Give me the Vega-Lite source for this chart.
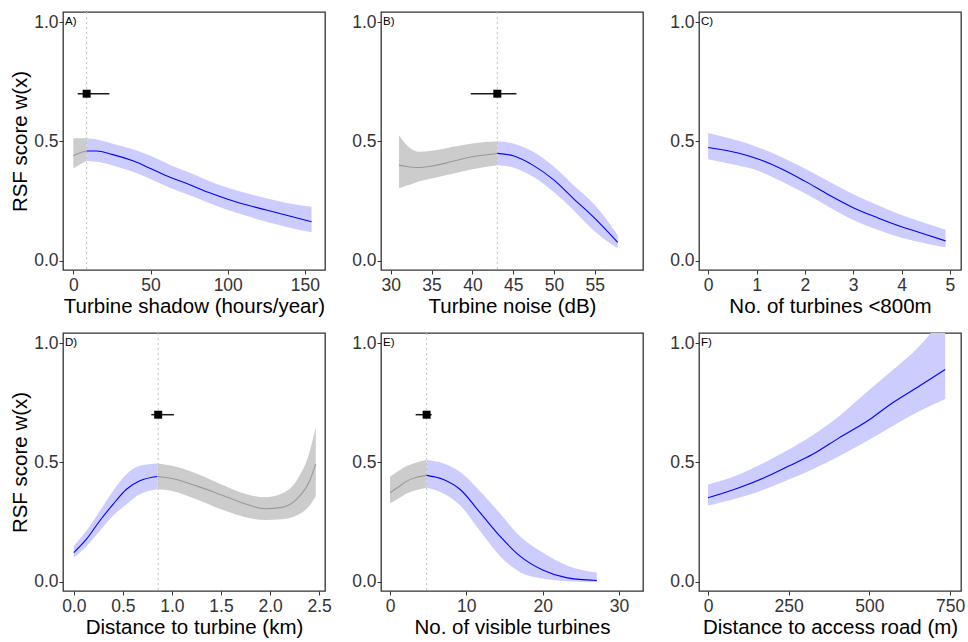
{
  "$schema": "https://vega.github.io/schema/vega-lite/v6.json",
  "background": "white",
  "padding": {"left": 10, "top": 10, "right": 5, "bottom": 5},
  "columns": 3,
  "bounds": "flush",
  "spacing": {"row": 63, "column": 56},
  "config": {
    "view": {"stroke": "#333333", "strokeWidth": 1.3},
    "axis": {"grid": false, "domain": false, "tickColor": "#333333", "tickSize": 4, "labelFont": "Liberation Sans", "labelFontSize": 17.5, "labelColor": "#333333", "labelPadding": 1, "labelFlush": false, "labelOverlap": false, "titleFont": "Liberation Sans", "titleFontSize": 20.5, "titleFontWeight": "normal", "titleColor": "#000000", "titlePadding": 3},
    "axisX": {"labelPadding": 2, "titlePadding": 3}
  },
  "concat": [
    {
      "width": 262, "height": 258,
      "data": {"values": [
        {"x": 0, "y": 0.440, "lo": 0.387, "hi": 0.513, "seg": "grey"},
        {"x": 4, "y": 0.452, "lo": 0.403, "hi": 0.513, "seg": "grey"},
        {"x": 8.6, "y": 0.460, "lo": 0.418, "hi": 0.513, "seg": "grey"},
        {"x": 8.6, "y": 0.460, "lo": 0.418, "hi": 0.513, "seg": "blue"},
        {"x": 15, "y": 0.460, "lo": 0.415, "hi": 0.508, "seg": "blue"},
        {"x": 25, "y": 0.446, "lo": 0.401, "hi": 0.492, "seg": "blue"},
        {"x": 39, "y": 0.418, "lo": 0.372, "hi": 0.466, "seg": "blue"},
        {"x": 50, "y": 0.387, "lo": 0.343, "hi": 0.440, "seg": "blue"},
        {"x": 62.6, "y": 0.350, "lo": 0.306, "hi": 0.402, "seg": "blue"},
        {"x": 75, "y": 0.320, "lo": 0.276, "hi": 0.370, "seg": "blue"},
        {"x": 87.4, "y": 0.287, "lo": 0.244, "hi": 0.336, "seg": "blue"},
        {"x": 100, "y": 0.258, "lo": 0.213, "hi": 0.306, "seg": "blue"},
        {"x": 112.5, "y": 0.234, "lo": 0.188, "hi": 0.283, "seg": "blue"},
        {"x": 125, "y": 0.213, "lo": 0.164, "hi": 0.262, "seg": "blue"},
        {"x": 137.5, "y": 0.192, "lo": 0.143, "hi": 0.244, "seg": "blue"},
        {"x": 154.3, "y": 0.164, "lo": 0.120, "hi": 0.227, "seg": "blue"}
      ]},
      "layer": [
        {"mark": {"type": "area", "interpolate": "monotone", "clip": true},
         "encoding": {
           "x": {"field": "x", "type": "quantitative", "scale": {"domain": [-6.7, 163], "nice": false, "zero": false}, "axis": {"values": [0, 50, 100, 150], "title": "Turbine shadow (hours/year)"}},
           "y": {"field": "lo", "type": "quantitative", "stack": null, "scale": {"domain": [-0.038, 1.042], "nice": false, "zero": false}, "axis": {"values": [0, 0.5, 1], "format": ".1f", "title": "RSF score w(x)"}},
           "y2": {"field": "hi"},
           "fill": {"field": "seg", "type": "nominal", "scale": {"domain": ["blue", "grey"], "range": ["#ccccff", "#cccccc"]}, "legend": null}
         }},
        {"data": {"values": [{"v": 8.6}]}, "mark": {"type": "rule", "color": "#c0c0c0", "strokeDash": [2, 3], "strokeWidth": 1}, "encoding": {"x": {"field": "v", "type": "quantitative"}}},
        {"mark": {"type": "line", "interpolate": "monotone", "strokeWidth": 1.1, "clip": true},
         "encoding": {
           "x": {"field": "x", "type": "quantitative"},
           "y": {"field": "y", "type": "quantitative"},
           "stroke": {"field": "seg", "type": "nominal", "scale": {"domain": ["blue", "grey"], "range": ["#0000ff", "#999999"]}, "legend": null}
         }},
        {"data": {"values": [{"py": 0.7, "xlo": 2.8, "xhi": 23.3}]}, "mark": {"type": "rule", "color": "#1a1a1a", "strokeWidth": 1.5}, "encoding": {"x": {"field": "xlo", "type": "quantitative"}, "x2": {"field": "xhi"}, "y": {"field": "py", "type": "quantitative"}}},
        {"data": {"values": [{"px": 8.6, "py": 0.7}]}, "mark": {"type": "point", "shape": "square", "filled": true, "size": 64, "color": "#000000", "opacity": 1}, "encoding": {"x": {"field": "px", "type": "quantitative"}, "y": {"field": "py", "type": "quantitative"}}},
        {"data": {"values": [{"lab": "A)", "lx": -6.7, "ly": 1.0}]}, "mark": {"type": "text", "align": "left", "baseline": "middle", "dx": 2, "fontSize": 11.5, "font": "Liberation Sans", "color": "#000000"}, "encoding": {"x": {"field": "lx", "type": "quantitative"}, "y": {"field": "ly", "type": "quantitative"}, "text": {"field": "lab"}}}
      ]
    },
    {
      "width": 262, "height": 258,
      "data": {"values": [
        {"x": 31.0, "y": 0.401, "lo": 0.304, "hi": 0.526, "seg": "grey"},
        {"x": 31.8, "y": 0.396, "lo": 0.314, "hi": 0.490, "seg": "grey"},
        {"x": 32.6, "y": 0.392, "lo": 0.322, "hi": 0.466, "seg": "grey"},
        {"x": 33.4, "y": 0.391, "lo": 0.332, "hi": 0.457, "seg": "grey"},
        {"x": 35, "y": 0.397, "lo": 0.345, "hi": 0.461, "seg": "grey"},
        {"x": 37.7, "y": 0.418, "lo": 0.366, "hi": 0.478, "seg": "grey"},
        {"x": 40, "y": 0.436, "lo": 0.384, "hi": 0.492, "seg": "grey"},
        {"x": 43.05, "y": 0.450, "lo": 0.401, "hi": 0.501, "seg": "grey"},
        {"x": 43.05, "y": 0.450, "lo": 0.401, "hi": 0.501, "seg": "blue"},
        {"x": 45, "y": 0.440, "lo": 0.391, "hi": 0.492, "seg": "blue"},
        {"x": 47.45, "y": 0.400, "lo": 0.352, "hi": 0.457, "seg": "blue"},
        {"x": 50, "y": 0.338, "lo": 0.287, "hi": 0.394, "seg": "blue"},
        {"x": 52.35, "y": 0.262, "lo": 0.213, "hi": 0.318, "seg": "blue"},
        {"x": 55, "y": 0.178, "lo": 0.123, "hi": 0.234, "seg": "blue"},
        {"x": 57.8, "y": 0.078, "lo": 0.053, "hi": 0.109, "seg": "blue"}
      ]},
      "layer": [
        {"mark": {"type": "area", "interpolate": "monotone", "clip": true},
         "encoding": {
           "x": {"field": "x", "type": "quantitative", "scale": {"domain": [28.8, 60.9], "nice": false, "zero": false}, "axis": {"values": [30, 35, 40, 45, 50, 55], "title": "Turbine noise (dB)"}},
           "y": {"field": "lo", "type": "quantitative", "stack": null, "scale": {"domain": [-0.038, 1.042], "nice": false, "zero": false}, "axis": {"values": [0, 0.5, 1], "format": ".1f", "title": null}},
           "y2": {"field": "hi"},
           "fill": {"field": "seg", "type": "nominal", "scale": {"domain": ["blue", "grey"], "range": ["#ccccff", "#cccccc"]}, "legend": null}
         }},
        {"data": {"values": [{"v": 43.05}]}, "mark": {"type": "rule", "color": "#c0c0c0", "strokeDash": [2, 3], "strokeWidth": 1}, "encoding": {"x": {"field": "v", "type": "quantitative"}}},
        {"mark": {"type": "line", "interpolate": "monotone", "strokeWidth": 1.1, "clip": true},
         "encoding": {
           "x": {"field": "x", "type": "quantitative"},
           "y": {"field": "y", "type": "quantitative"},
           "stroke": {"field": "seg", "type": "nominal", "scale": {"domain": ["blue", "grey"], "range": ["#0000ff", "#999999"]}, "legend": null}
         }},
        {"data": {"values": [{"py": 0.7, "xlo": 39.8, "xhi": 45.4}]}, "mark": {"type": "rule", "color": "#1a1a1a", "strokeWidth": 1.5}, "encoding": {"x": {"field": "xlo", "type": "quantitative"}, "x2": {"field": "xhi"}, "y": {"field": "py", "type": "quantitative"}}},
        {"data": {"values": [{"px": 43.05, "py": 0.7}]}, "mark": {"type": "point", "shape": "square", "filled": true, "size": 64, "color": "#000000", "opacity": 1}, "encoding": {"x": {"field": "px", "type": "quantitative"}, "y": {"field": "py", "type": "quantitative"}}},
        {"data": {"values": [{"lab": "B)", "lx": 28.8, "ly": 1.0}]}, "mark": {"type": "text", "align": "left", "baseline": "middle", "dx": 2, "fontSize": 11.5, "font": "Liberation Sans", "color": "#000000"}, "encoding": {"x": {"field": "lx", "type": "quantitative"}, "y": {"field": "ly", "type": "quantitative"}, "text": {"field": "lab"}}}
      ]
    },
    {
      "width": 262, "height": 258,
      "data": {"values": [
        {"x": 0, "y": 0.475, "lo": 0.426, "hi": 0.536, "seg": "blue"},
        {"x": 0.5, "y": 0.457, "lo": 0.405, "hi": 0.510, "seg": "blue"},
        {"x": 1, "y": 0.429, "lo": 0.380, "hi": 0.478, "seg": "blue"},
        {"x": 1.5, "y": 0.387, "lo": 0.335, "hi": 0.436, "seg": "blue"},
        {"x": 2, "y": 0.334, "lo": 0.283, "hi": 0.387, "seg": "blue"},
        {"x": 2.5, "y": 0.276, "lo": 0.226, "hi": 0.332, "seg": "blue"},
        {"x": 3, "y": 0.223, "lo": 0.171, "hi": 0.279, "seg": "blue"},
        {"x": 3.5, "y": 0.181, "lo": 0.130, "hi": 0.234, "seg": "blue"},
        {"x": 4, "y": 0.143, "lo": 0.097, "hi": 0.192, "seg": "blue"},
        {"x": 4.5, "y": 0.111, "lo": 0.073, "hi": 0.158, "seg": "blue"},
        {"x": 4.91, "y": 0.084, "lo": 0.056, "hi": 0.130, "seg": "blue"}
      ]},
      "layer": [
        {"mark": {"type": "area", "interpolate": "monotone", "clip": true},
         "encoding": {
           "x": {"field": "x", "type": "quantitative", "scale": {"domain": [-0.19, 5.23], "nice": false, "zero": false}, "axis": {"values": [0, 1, 2, 3, 4, 5], "title": "No. of turbines <800m"}},
           "y": {"field": "lo", "type": "quantitative", "stack": null, "scale": {"domain": [-0.038, 1.042], "nice": false, "zero": false}, "axis": {"values": [0, 0.5, 1], "format": ".1f", "title": null}},
           "y2": {"field": "hi"},
           "fill": {"field": "seg", "type": "nominal", "scale": {"domain": ["blue", "grey"], "range": ["#ccccff", "#cccccc"]}, "legend": null}
         }},
        {"mark": {"type": "line", "interpolate": "monotone", "strokeWidth": 1.1, "clip": true},
         "encoding": {
           "x": {"field": "x", "type": "quantitative"},
           "y": {"field": "y", "type": "quantitative"},
           "stroke": {"field": "seg", "type": "nominal", "scale": {"domain": ["blue", "grey"], "range": ["#0000ff", "#999999"]}, "legend": null}
         }},
        {"data": {"values": [{"lab": "C)", "lx": -0.19, "ly": 1.0}]}, "mark": {"type": "text", "align": "left", "baseline": "middle", "dx": 2, "fontSize": 11.5, "font": "Liberation Sans", "color": "#000000"}, "encoding": {"x": {"field": "lx", "type": "quantitative"}, "y": {"field": "ly", "type": "quantitative"}, "text": {"field": "lab"}}}
      ]
    },
    {
      "width": 262, "height": 258,
      "data": {"values": [
        {"x": 0, "y": 0.123, "lo": 0.102, "hi": 0.151, "seg": "blue"},
        {"x": 0.129, "y": 0.179, "lo": 0.148, "hi": 0.214, "seg": "blue"},
        {"x": 0.265, "y": 0.256, "lo": 0.214, "hi": 0.297, "seg": "blue"},
        {"x": 0.4, "y": 0.325, "lo": 0.277, "hi": 0.381, "seg": "blue"},
        {"x": 0.537, "y": 0.388, "lo": 0.325, "hi": 0.451, "seg": "blue"},
        {"x": 0.673, "y": 0.423, "lo": 0.367, "hi": 0.486, "seg": "blue"},
        {"x": 0.853, "y": 0.441, "lo": 0.388, "hi": 0.496, "seg": "blue"},
        {"x": 0.853, "y": 0.441, "lo": 0.388, "hi": 0.496, "seg": "grey"},
        {"x": 1.0, "y": 0.433, "lo": 0.381, "hi": 0.486, "seg": "grey"},
        {"x": 1.25, "y": 0.402, "lo": 0.346, "hi": 0.454, "seg": "grey"},
        {"x": 1.5, "y": 0.365, "lo": 0.304, "hi": 0.409, "seg": "grey"},
        {"x": 1.76, "y": 0.325, "lo": 0.270, "hi": 0.367, "seg": "grey"},
        {"x": 1.95, "y": 0.306, "lo": 0.259, "hi": 0.354, "seg": "grey"},
        {"x": 2.12, "y": 0.312, "lo": 0.262, "hi": 0.370, "seg": "grey"},
        {"x": 2.28, "y": 0.350, "lo": 0.280, "hi": 0.430, "seg": "grey"},
        {"x": 2.4, "y": 0.420, "lo": 0.318, "hi": 0.540, "seg": "grey"},
        {"x": 2.466, "y": 0.493, "lo": 0.360, "hi": 0.647, "seg": "grey"}
      ]},
      "layer": [
        {"mark": {"type": "area", "interpolate": "monotone", "clip": true},
         "encoding": {
           "x": {"field": "x", "type": "quantitative", "scale": {"domain": [-0.11, 2.56], "nice": false, "zero": false}, "axis": {"values": [0, 0.5, 1, 1.5, 2, 2.5], "format": ".1f", "title": "Distance to turbine (km)"}},
           "y": {"field": "lo", "type": "quantitative", "stack": null, "scale": {"domain": [-0.038, 1.042], "nice": false, "zero": false}, "axis": {"values": [0, 0.5, 1], "format": ".1f", "title": "RSF score w(x)"}},
           "y2": {"field": "hi"},
           "fill": {"field": "seg", "type": "nominal", "scale": {"domain": ["blue", "grey"], "range": ["#ccccff", "#cccccc"]}, "legend": null}
         }},
        {"data": {"values": [{"v": 0.86}]}, "mark": {"type": "rule", "color": "#c0c0c0", "strokeDash": [2, 3], "strokeWidth": 1}, "encoding": {"x": {"field": "v", "type": "quantitative"}}},
        {"mark": {"type": "line", "interpolate": "monotone", "strokeWidth": 1.1, "clip": true},
         "encoding": {
           "x": {"field": "x", "type": "quantitative"},
           "y": {"field": "y", "type": "quantitative"},
           "stroke": {"field": "seg", "type": "nominal", "scale": {"domain": ["blue", "grey"], "range": ["#0000ff", "#999999"]}, "legend": null}
         }},
        {"data": {"values": [{"py": 0.7, "xlo": 0.79, "xhi": 1.02}]}, "mark": {"type": "rule", "color": "#1a1a1a", "strokeWidth": 1.5}, "encoding": {"x": {"field": "xlo", "type": "quantitative"}, "x2": {"field": "xhi"}, "y": {"field": "py", "type": "quantitative"}}},
        {"data": {"values": [{"px": 0.86, "py": 0.7}]}, "mark": {"type": "point", "shape": "square", "filled": true, "size": 64, "color": "#000000", "opacity": 1}, "encoding": {"x": {"field": "px", "type": "quantitative"}, "y": {"field": "py", "type": "quantitative"}}},
        {"data": {"values": [{"lab": "D)", "lx": -0.11, "ly": 1.0}]}, "mark": {"type": "text", "align": "left", "baseline": "middle", "dx": 2, "fontSize": 11.5, "font": "Liberation Sans", "color": "#000000"}, "encoding": {"x": {"field": "lx", "type": "quantitative"}, "y": {"field": "ly", "type": "quantitative"}, "text": {"field": "lab"}}}
      ]
    },
    {
      "width": 262, "height": 258,
      "data": {"values": [
        {"x": 0, "y": 0.373, "lo": 0.329, "hi": 0.440, "seg": "grey"},
        {"x": 1, "y": 0.395, "lo": 0.347, "hi": 0.462, "seg": "grey"},
        {"x": 2.2, "y": 0.422, "lo": 0.370, "hi": 0.485, "seg": "grey"},
        {"x": 3.5, "y": 0.438, "lo": 0.385, "hi": 0.500, "seg": "grey"},
        {"x": 4.8, "y": 0.446, "lo": 0.394, "hi": 0.510, "seg": "grey"},
        {"x": 4.8, "y": 0.446, "lo": 0.394, "hi": 0.510, "seg": "blue"},
        {"x": 7, "y": 0.429, "lo": 0.370, "hi": 0.496, "seg": "blue"},
        {"x": 9.2, "y": 0.387, "lo": 0.320, "hi": 0.460, "seg": "blue"},
        {"x": 11.8, "y": 0.290, "lo": 0.213, "hi": 0.380, "seg": "blue"},
        {"x": 14.4, "y": 0.192, "lo": 0.109, "hi": 0.287, "seg": "blue"},
        {"x": 17, "y": 0.109, "lo": 0.042, "hi": 0.192, "seg": "blue"},
        {"x": 20, "y": 0.050, "lo": 0.014, "hi": 0.123, "seg": "blue"},
        {"x": 23.1, "y": 0.018, "lo": 0.003, "hi": 0.070, "seg": "blue"},
        {"x": 27.1, "y": 0.006, "lo": 0.000, "hi": 0.039, "seg": "blue"}
      ]},
      "layer": [
        {"mark": {"type": "area", "interpolate": "monotone", "clip": true},
         "encoding": {
           "x": {"field": "x", "type": "quantitative", "scale": {"domain": [-1.18, 33.15], "nice": false, "zero": false}, "axis": {"values": [0, 10, 20, 30], "title": "No. of visible turbines"}},
           "y": {"field": "lo", "type": "quantitative", "stack": null, "scale": {"domain": [-0.038, 1.042], "nice": false, "zero": false}, "axis": {"values": [0, 0.5, 1], "format": ".1f", "title": null}},
           "y2": {"field": "hi"},
           "fill": {"field": "seg", "type": "nominal", "scale": {"domain": ["blue", "grey"], "range": ["#ccccff", "#cccccc"]}, "legend": null}
         }},
        {"data": {"values": [{"v": 4.8}]}, "mark": {"type": "rule", "color": "#c0c0c0", "strokeDash": [2, 3], "strokeWidth": 1}, "encoding": {"x": {"field": "v", "type": "quantitative"}}},
        {"mark": {"type": "line", "interpolate": "monotone", "strokeWidth": 1.1, "clip": true},
         "encoding": {
           "x": {"field": "x", "type": "quantitative"},
           "y": {"field": "y", "type": "quantitative"},
           "stroke": {"field": "seg", "type": "nominal", "scale": {"domain": ["blue", "grey"], "range": ["#0000ff", "#999999"]}, "legend": null}
         }},
        {"data": {"values": [{"py": 0.7, "xlo": 3.36, "xhi": 5.46}]}, "mark": {"type": "rule", "color": "#1a1a1a", "strokeWidth": 1.5}, "encoding": {"x": {"field": "xlo", "type": "quantitative"}, "x2": {"field": "xhi"}, "y": {"field": "py", "type": "quantitative"}}},
        {"data": {"values": [{"px": 4.8, "py": 0.7}]}, "mark": {"type": "point", "shape": "square", "filled": true, "size": 64, "color": "#000000", "opacity": 1}, "encoding": {"x": {"field": "px", "type": "quantitative"}, "y": {"field": "py", "type": "quantitative"}}},
        {"data": {"values": [{"lab": "E)", "lx": -1.18, "ly": 1.0}]}, "mark": {"type": "text", "align": "left", "baseline": "middle", "dx": 2, "fontSize": 11.5, "font": "Liberation Sans", "color": "#000000"}, "encoding": {"x": {"field": "lx", "type": "quantitative"}, "y": {"field": "ly", "type": "quantitative"}, "text": {"field": "lab"}}}
      ]
    },
    {
      "width": 262, "height": 258,
      "data": {"values": [
        {"x": 0, "y": 0.352, "lo": 0.320, "hi": 0.408, "seg": "blue"},
        {"x": 96, "y": 0.394, "lo": 0.352, "hi": 0.450, "seg": "blue"},
        {"x": 174, "y": 0.436, "lo": 0.387, "hi": 0.499, "seg": "blue"},
        {"x": 250, "y": 0.485, "lo": 0.429, "hi": 0.554, "seg": "blue"},
        {"x": 323, "y": 0.533, "lo": 0.471, "hi": 0.613, "seg": "blue"},
        {"x": 406, "y": 0.603, "lo": 0.526, "hi": 0.694, "seg": "blue"},
        {"x": 501, "y": 0.680, "lo": 0.596, "hi": 0.805, "seg": "blue"},
        {"x": 571, "y": 0.749, "lo": 0.652, "hi": 0.885, "seg": "blue"},
        {"x": 654, "y": 0.819, "lo": 0.714, "hi": 0.985, "seg": "blue"},
        {"x": 735, "y": 0.889, "lo": 0.766, "hi": 1.120, "seg": "blue"}
      ]},
      "layer": [
        {"mark": {"type": "area", "interpolate": "monotone", "clip": true},
         "encoding": {
           "x": {"field": "x", "type": "quantitative", "scale": {"domain": [-28, 784], "nice": false, "zero": false}, "axis": {"values": [0, 250, 500, 750], "title": "Distance to access road (m)"}},
           "y": {"field": "lo", "type": "quantitative", "stack": null, "scale": {"domain": [-0.038, 1.042], "nice": false, "zero": false}, "axis": {"values": [0, 0.5, 1], "format": ".1f", "title": null}},
           "y2": {"field": "hi"},
           "fill": {"field": "seg", "type": "nominal", "scale": {"domain": ["blue", "grey"], "range": ["#ccccff", "#cccccc"]}, "legend": null}
         }},
        {"mark": {"type": "line", "interpolate": "monotone", "strokeWidth": 1.1, "clip": true},
         "encoding": {
           "x": {"field": "x", "type": "quantitative"},
           "y": {"field": "y", "type": "quantitative"},
           "stroke": {"field": "seg", "type": "nominal", "scale": {"domain": ["blue", "grey"], "range": ["#0000ff", "#999999"]}, "legend": null}
         }},
        {"data": {"values": [{"lab": "F)", "lx": -28, "ly": 1.0}]}, "mark": {"type": "text", "align": "left", "baseline": "middle", "dx": 2, "fontSize": 11.5, "font": "Liberation Sans", "color": "#000000"}, "encoding": {"x": {"field": "lx", "type": "quantitative"}, "y": {"field": "ly", "type": "quantitative"}, "text": {"field": "lab"}}}
      ]
    }
  ]
}
